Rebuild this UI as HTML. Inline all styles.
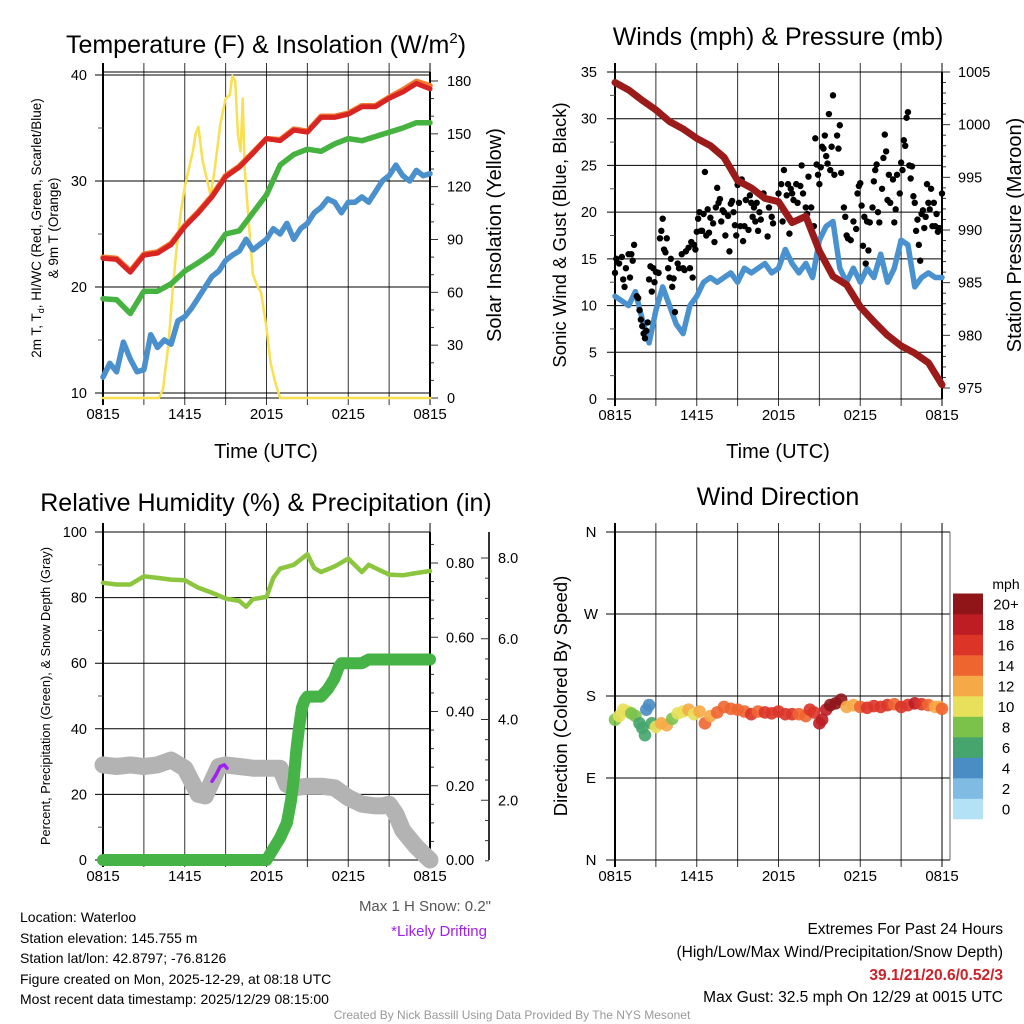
<!DOCTYPE html>
<html><head><meta charset="utf-8"><style>
html,body{margin:0;padding:0;background:#fff}
svg{display:block;font-family:"Liberation Sans",sans-serif}
</style></head><body>
<svg id="s" width="1024" height="1024" viewBox="0 0 1024 1024" xmlns="http://www.w3.org/2000/svg">
<rect width="1024" height="1024" fill="#fff"/>
<g id="gl"></g>
<g id="gm"></g>
<g id="gt" font-size="14" fill="#000">
<text x="266" y="53" font-size="25" text-anchor="middle">Temperature (F) &amp; Insolation (W/m<tspan dy="-10" font-size="15">2</tspan><tspan dy="10">)</tspan></text>
<text font-size="13.5" text-anchor="middle" transform="translate(41,228) rotate(-90)">2m T, T<tspan dy="3" font-size="9">d</tspan><tspan dy="-3">, HI/WC (Red, Green, Scarlet/Blue)</tspan></text>
<text font-size="13.5" text-anchor="middle" transform="translate(58,228) rotate(-90)">&amp; 9m T (Orange)</text>
<text font-size="20" text-anchor="middle" transform="translate(501,235) rotate(-90)">Solar Insolation (Yellow)</text>
<text x="266" y="458" font-size="20" text-anchor="middle">Time (UTC)</text>
<text x="778" y="45" font-size="25" text-anchor="middle">Winds (mph) &amp; Pressure (mb)</text>
<text font-size="18.5" text-anchor="middle" transform="translate(566,235) rotate(-90)">Sonic Wind &amp; Gust (Blue, Black)</text>
<text font-size="20" text-anchor="middle" transform="translate(1021,235) rotate(-90)">Station Pressure (Maroon)</text>
<text x="778" y="458" font-size="20" text-anchor="middle">Time (UTC)</text>
<text x="266" y="511" font-size="25" text-anchor="middle">Relative Humidity (%) &amp; Precipitation (in)</text>
<text font-size="12.8" text-anchor="middle" transform="translate(50,696) rotate(-90)">Percent, Precipitation (Green), &amp; Snow Depth (Gray)</text>
<text x="778" y="505" font-size="25" text-anchor="middle">Wind Direction</text>
<text font-size="18.5" text-anchor="middle" transform="translate(567,696) rotate(-90)">Direction (Colored By Speed)</text>
<text x="1006" y="589" font-size="14" text-anchor="middle">mph</text>
<text x="491" y="911" font-size="15" fill="#555" text-anchor="end">Max 1 H Snow: 0.2"</text>
<text x="487" y="936" font-size="15" fill="#a020f0" text-anchor="end">*Likely Drifting</text>
<text x="20" y="922">Location: Waterloo</text>
<text x="20" y="943">Station elevation: 145.755 m</text>
<text x="20" y="963">Station lat/lon: 42.8797; -76.8126</text>
<text x="20" y="984">Figure created on Mon, 2025-12-29, at 08:18 UTC</text>
<text x="20" y="1004">Most recent data timestamp: 2025/12/29 08:15:00</text>
<text x="1003" y="934" font-size="15.5" text-anchor="end">Extremes For Past 24 Hours</text>
<text x="1003" y="957" font-size="15.5" text-anchor="end">(High/Low/Max Wind/Precipitation/Snow Depth)</text>
<text x="1003" y="980" font-size="15.5" font-weight="bold" fill="#cc2229" text-anchor="end">39.1/21/20.6/0.52/3</text>
<text x="1003" y="1002" font-size="15.5" text-anchor="end">Max Gust: 32.5 mph On 12/29 at 0015 UTC</text>
<text x="512" y="1019" font-size="12" fill="#999" text-anchor="middle">Created By Nick Bassill Using Data Provided By The NYS Mesonet</text>
</g>
</svg>
<script>
// ---- data ----
const xTickLabels=["0815","1415","2015","0215","0815"];
const hours=[0,1,2,3,4,5,6,7,8,9,10,11,12,13,14,15,16,17,18,19,20,21,22,23,24];
const tempRed=[22.7,22.6,21.4,23.0,23.2,24.0,25.7,27.0,28.5,30.4,31.3,32.6,34.0,33.8,34.8,34.6,36.0,36.0,36.3,37.0,37.0,37.8,38.4,39.2,38.7];
const tempOrange=[22.8,22.7,21.5,23.1,23.3,24.1,25.8,27.1,28.6,30.5,31.4,32.7,34.0,33.9,34.9,34.7,36.1,36.1,36.4,37.1,37.1,37.9,38.6,39.4,39.0];
const dewGreen=[18.9,18.8,17.5,19.6,19.6,20.3,21.5,22.3,23.2,25.0,25.3,27.0,28.7,31.5,32.5,33.0,32.8,33.5,34.0,33.8,34.2,34.6,35.0,35.5,35.5];
const halfHours=[0,0.5,1,1.5,2,2.5,3,3.5,4,4.5,5,5.5,6,6.5,7,7.5,8,8.5,9,9.5,10,10.5,11,11.5,12,12.5,13,13.5,14,14.5,15,15.5,16,16.5,17,17.5,18,18.5,19,19.5,20,20.5,21,21.5,22,22.5,23,23.5,24];
const wcBlue=[11.5,12.8,12.0,14.8,13.2,12.0,12.2,15.5,14.3,15.0,14.6,16.8,17.2,18.0,19.0,20.0,21.0,21.5,22.5,23.0,23.4,24.5,23.5,24.0,24.5,25.5,25.0,26.0,24.5,25.5,26.0,27.0,27.5,28.3,28.0,27.0,28.0,28.0,28.5,28.0,29.0,30.0,30.5,31.5,30.5,30.0,31.0,30.5,30.7];
const solarTimes=[0,4.1,4.4,4.8,5.1,5.4,5.7,6.0,6.3,6.6,6.8,7.0,7.3,7.6,7.9,8.2,8.6,9.0,9.3,9.5,9.7,9.9,10.1,10.25,10.4,10.6,11.0,11.3,11.6,12.0,12.3,12.6,13.0,24];
const solarVals=[0,0,5,30,60,85,105,120,130,140,150,154,135,125,115,130,155,170,172,183,180,150,140,170,130,110,70,64,60,40,20,10,0,0];
const pressure=[1004,1003.3,1002.3,1001.4,1000.3,999.6,998.7,998,996.9,994.7,994,993,992.7,990.7,991.3,988,985.6,984.8,982.7,981.3,980,979,978.3,977.4,975.3];
const windBlue=[11,10.5,10,11.5,8.5,6,9.5,12,10,8,7,10,11,12.5,13,12.5,13,13.5,12.5,14,13.5,14,14.5,13.5,14,16,14.5,13.5,14.5,13,17,18.5,19,14,12.5,14,12.5,14,13,15.5,12.5,14,17,16.5,12,13,13.5,13,13];
const gustTimes=[0,0.1,0.3,0.5,0.6,0.7,0.8,1,1.1,1.2,1.3,1.4,1.6,1.7,1.8,1.9,2,2.1,2.2,2.3,2.4,2.5,2.6,2.7,2.8,2.9,3,3.2,3.3,3.4,3.5,3.6,3.7,3.8,3.9,4,4.1,4.2,4.3,4.4,4.6,4.7,4.9,5,5.1,5.2,5.4,5.5,5.6,5.7,5.8,5.9,6,6.1,6.2,6.3,6.4,6.5,6.6,6.7,6.8,6.9,7,7.2,7.3,7.4,7.5,7.6,7.7,7.8,7.9,8,8.1,8.3,8.4,8.5,8.6,8.7,8.8,8.9,9,9.1,9.2,9.3,9.4,9.5,9.6,9.8,9.9,10,10.1,10.2,10.3,10.4,10.5,10.6,10.7,10.9,11,11.2,11.3,11.5,11.6,12,12.2,12.3,12.4,12.6,12.7,12.8,12.9,13,13.1,13.3,13.4,13.6,13.7,13.8,14,14.1,14.2,14.4,14.6,14.7,14.8,14.9,15,15.1,15.2,15.3,15.4,15.5,15.6,15.7,15.8,15.9,16,16.1,16.3,16.4,16.5,16.6,16.8,16.9,17,17.1,17.3,17.5,17.7,17.8,17.9,18,18.1,18.2,18.3,18.4,18.5,18.6,18.7,18.9,19,19.1,19.2,19.3,19.4,19.6,19.7,19.8,19.9,20,20.1,20.2,20.4,20.5,20.6,20.7,20.9,21,21.1,21.2,21.3,21.4,21.5,21.6,21.7,21.8,21.9,22,22.1,22.2,22.3,22.4,22.5,22.6,22.7,22.8,22.9,23,23.1,23.2,23.3,23.4,23.5,23.6,23.7,23.8,24];
const gustVals=[13.5,15,14.5,15.2,12.8,12,14,15.5,13,15.5,14.8,16.5,11,10.8,9.5,8.5,7.8,7,6.5,7.3,8.2,12.8,14.2,11.5,14,12.5,13.6,13.5,17.2,18,19.3,16,15.7,17.2,14,13,15,12,12.9,9.3,14.5,14,15.5,14,13.8,15.8,16.2,14,16.8,13,16.5,16,17.9,19.3,20,18,18,19.8,24.3,17.5,20.3,17.8,19.4,18.8,16.8,20.5,22.6,21,21.4,19,20.2,20,17.5,19.6,15.8,20.9,21.2,20,18.6,17.5,22.9,21,18.5,23.5,16.9,18.5,21.3,18.1,21.8,21,19.5,20.5,19,21,18,20,19.2,22,21.5,17.4,20.5,19.5,18.8,22,23,19,24.5,21.8,23,17.7,22.5,22,21.3,23,21,22.8,25,22,20.5,19.8,23.8,20.5,18.5,27.9,25.1,24,23,24.8,27,26.8,28.2,26,25.2,30.5,24.5,27,32.5,24,28.2,26.8,29.3,24.2,20.5,19.5,17.5,17.2,17,19,18.2,22,22.8,23.1,20.7,16.4,19.5,14.5,19,15.9,18.9,20.5,23.3,24.5,25.1,20,18.9,22.5,25.8,28.3,26.5,21.3,24,21,23.5,18.9,20.3,24,22,25.3,24.5,27.7,27.1,30.1,30.7,25,23.6,24.9,21.7,21,18,19.2,16.5,14.8,19.8,20.2,18.3,19.5,23,21,20.3,22.5,18.5,21,18.5,19.8,17.9,18.3,22];
const rhTimes=[0,1,2,3,4,5,6,7,8,9,10,10.5,11,12,12.5,13,14,15,15.5,16,17,18,19,19.5,20,21,22,23,24];
const rhVals=[84.5,84,84,86.5,86,85.5,85.3,83,81.5,79.7,79,77.2,79.5,80.2,86,88.8,90,93.2,89,87.8,89.5,91.9,87.8,90,89,87,86.8,87.5,88.1];
const precipTimes=[0,12,12.5,13,13.5,13.8,14,14.2,14.4,14.6,14.8,15,16,16.5,17,17.3,17.5,19,19.5,24];
const precipVals=[0,0,0.03,0.06,0.1,0.16,0.22,0.3,0.36,0.41,0.43,0.44,0.44,0.46,0.49,0.52,0.53,0.53,0.54,0.54];
const snowTimes=[0,1,2,3,4,5,6,7,7.5,8,8.5,9,10,11,12,13,13.5,14,15,16,17,18,19,20,20.5,21,21.5,22,23,24];
const snowVals=[29,28.5,29,28.5,29,30.5,28,20,19.5,24,28.5,29,28.5,28,28,28,23,22,22.5,22.5,22,19,17,16.5,16.5,17,14,9,4,0];
const driftTimes=[8,8.3,8.6,8.9,9.1];
const driftVals=[24,26,28.5,29,28];
const dirVals=[154,158,165,163,161,158,150,145,137,165,170,150,146,150,148,155,161,163,165,160,163,150,158,162,168,166,165,163,160,163,162,161,163,160,160,160,158,165,162,150,154,165,170,172,176,168,170,168,167,169,168,170,171,168,170,172,171,170,168,168,166];
const dirTimes=[0,0.3,0.6,0.9,1.2,1.5,1.8,2.0,2.2,2.3,2.5,2.7,3.0,3.4,3.8,4.2,4.6,5.0,5.4,5.8,6.2,6.6,7.0,7.5,8.0,8.5,9.0,9.5,10.0,10.5,11.0,11.5,12.0,12.5,13.0,13.5,14.0,14.3,14.6,15.0,15.2,15.5,15.8,16.2,16.6,17.0,17.5,18.0,18.5,19.0,19.5,20.0,20.5,21.0,21.5,22.0,22.5,23.0,23.5,23.8,24];
const dirSpeeds=[9,10,11,10,8,9,7,6,6,4,4,7,10,13,12,8,10,11,12,10,13,14,13,14,14,14,14,15,16,15,16,16,16,17,17,14,15,17,16,18,18,19,20,20,21,12,12,15,16,17,17,16,15,17,17,18,17,14,13,12,14];
const cbLabels=["0","2","4","6","8","10","12","14","16","18","20+"];
const cbColors=["#b3e2f6","#80bbe3","#4a8cc4","#46a56d","#7bc24b","#e8e05a","#f6aa47","#ef6530","#dc3528","#be1d24","#8f1519"];

// ---- axes ----
const X0=103,X1=430,X0b=615,X1b=942;
const xL=h=>X0+h*(X1-X0)/24, xR=h=>X0b+h*(X1b-X0b)/24;
const yTemp=v=>393-(v-10)*(393-75)/30;
const ySolar=v=>398-v*(398-81)/180;
const yWind=v=>399-v*(399-72)/35;
const yPres=v=>388-(v-975)*(388-72)/30;
const yRH=v=>860-v*(860-532)/100;
const yPrec=v=>860-v*(860-563)/0.8;
const ySnowOuter=v=>881-v*(881-558)/8;
const yDir=v=>860-v*(860-532)/360;

const NS="http://www.w3.org/2000/svg";
const gl=document.getElementById('gl'), gm=document.getElementById('gm');
function mk(tag,parent,attrs){const e=document.createElementNS(NS,tag);for(const k in attrs)e.setAttribute(k,attrs[k]);parent.appendChild(e);return e;}
function line(p,x1,y1,x2,y2,c,w){return mk('line',p,{x1:x1,y1:y1,x2:x2,y2:y2,stroke:c||'#000','stroke-width':w||1});}
function txt(p,x,y,s,anchor,size){const t=mk('text',p,{x:x,y:y,'text-anchor':anchor||'middle','font-size':size||14.5});t.textContent=s;return t;}

function frame(xf,xa,xb,yt,yb){
  for(let i=0;i<=8;i++){const x=xf(i*3);line(gl,x,yt-9,x,yb+7,i==0||i==8?'#000':'#333',i==0?2:1);}
  line(gl,xa,yt,xb,yt);line(gl,xa,yb,xb,yb);
  for(let i=0;i<5;i++){const t=txt(gl,xf(i*6),yb+21,xTickLabels[i],'middle',15);
    
    }
}
// panel 1
frame(xL,X0,X1,72,398);
for(let v=10;v<=40;v+=10){line(gl,95,yTemp(v),X1,yTemp(v));const t=txt(gl,87,yTemp(v)+5,String(v),'end');}
for(let v=15;v<40;v+=10){line(gl,98,yTemp(v),X0,yTemp(v),'#555');}
for(let v=0;v<=180;v+=10){const maj=v%30==0;line(gl,X1,ySolar(v),X1+(maj?8:4),ySolar(v),'#333');if(maj){const t=txt(gl,447,ySolar(v)+5,String(v),'start');}}
line(gl,X1,72,X1,398,'#000',2);
// panel 2
frame(xR,X0b,X1b,72,399);
for(let v=0;v<=35;v+=5){line(gl,607,yWind(v),X1b,yWind(v));const t=txt(gl,597,yWind(v)+5,String(v),'end');}
for(let v=2.5;v<35;v+=5){line(gl,610,yWind(v),X0b,yWind(v),'#555');}
for(let v=975;v<=1005;v++){const maj=v%5==0;line(gl,X1b,yPres(v),X1b+(maj?8:4),yPres(v),'#333');if(maj){const t=txt(gl,958,yPres(v)+5,String(v),'start');}}
line(gl,X1b,72,X1b,399,'#000',2);
// panel 3
frame(xL,X0,X1,532,860);
for(let v=0;v<=100;v+=20){line(gl,95,yRH(v),X1,yRH(v));const t=txt(gl,87,yRH(v)+5,String(v),'end');}
for(let v=10;v<100;v+=20){line(gl,98,yRH(v),X0,yRH(v),'#555');}
for(let i=0;i<=17;i++){const v=i*0.05;const maj=i%4==0;line(gl,X1,yPrec(v),X1+(maj?8:4),yPrec(v),'#333');if(maj){const t=txt(gl,446,yPrec(v)+5,v.toFixed(2),'start');}}
line(gl,X1,532,X1,860,'#000',2);
line(gl,489,532,489,860,'#333',2);
for(let i=1;i<=16;i++){const v=i*0.5;if(ySnowOuter(v)<532)continue;const maj=i%4==0;line(gl,489,ySnowOuter(v),489-(maj?8:4),ySnowOuter(v),'#333');if(maj){const t=txt(gl,498,ySnowOuter(v)+5,v.toFixed(1),'start');}}
// panel 4
frame(xR,X0b,X1b,532,860);
const dirLabs=["N","E","S","W","N"];
for(let i=0;i<5;i++){const v=i*90;line(gl,606,yDir(v),950,yDir(v));const t=txt(gl,591,yDir(v)+5,dirLabs[i],'middle',15);}
line(gl,950,532,950,860,'#666',1);
// colorbar
for(let i=0;i<cbColors.length;i++){const y=819-(i+1)*20.5;
  const r=mk('rect',gl,{x:953,y:y,width:30,height:20.8,fill:cbColors[i]});
  
  
  const t=txt(gl,1006,y+16,cbLabels[i],'middle',15);
  
  }

// ---- series ----
function poly(xs,ys,xf,yf,color,w,name,op){
  const pts=xs.map((h,i)=>xf(h).toFixed(1)+','+yf(ys[i]).toFixed(1)).join(' ');
  const p=mk('polyline',gm,{points:pts,fill:'none',stroke:color,'stroke-width':w,'stroke-linejoin':'round','stroke-linecap':'round',opacity:op||1});
  
  
  return p;
}
poly(solarTimes,solarVals,xL,ySolar,'#f8e050',2.5,'solar-line');
poly(halfHours,wcBlue,xL,yTemp,'#4a90cc',5.5,'windchill-line');
poly(hours,dewGreen,xL,yTemp,'#46b340',5.5,'dewpoint-line');
poly(hours,tempOrange,xL,yTemp,'#f27a2e',5.5,'temp-9m-line');
poly(hours,tempRed,xL,yTemp,'#d92424',5,'temp-2m-line');

poly(halfHours,windBlue,xR,yWind,'#4a92cf',5.5,'sustained-wind-line');
for(let i=0;i<gustTimes.length;i++){
  const c=mk('circle',gm,{cx:xR(gustTimes[i]),cy:yWind(gustVals[i]),r:3.2,fill:'#000'});
  
  
}
poly(hours,pressure,xR,yPres,'#9b1b1b',7,'pressure-line');

poly(rhTimes,rhVals,xL,yRH,'#8cc63f',4.5,'rh-line');
poly(snowTimes,snowVals,xL,yRH,'#b3b3b3',17,'snow-depth-line');
poly(driftTimes,driftVals,xL,yRH,'#a020f0',3.5,'drifting-line');
poly(precipTimes,precipVals,xL,yPrec,'#46b346',12,'precip-line');

function binColor(s){let i=Math.floor(s/2)+0;if(i>10)i=10;if(i<0)i=0;return cbColors[i];}
for(let i=0;i<dirTimes.length;i++){
  const c=mk('circle',gm,{cx:xR(dirTimes[i]),cy:yDir(dirVals[i]),r:6.3,fill:binColor(dirSpeeds[i]),opacity:0.9});
  
  
}
</script>
</body></html>
